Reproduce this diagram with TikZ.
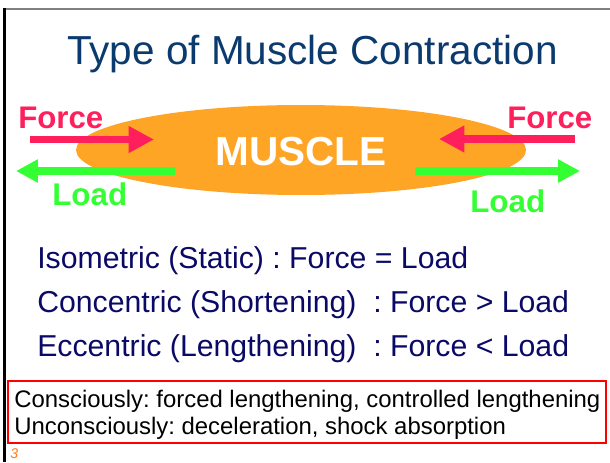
\documentclass[tikz,border=0pt]{standalone}
\usepackage{fontspec}
\setmainfont{Liberation Sans}
\usepackage{tikz}
\usetikzlibrary{arrows.meta}
\definecolor{titleblue}{HTML}{0B3A6E}
\definecolor{navy}{HTML}{0A0A66}
\definecolor{forcered}{HTML}{FF1F5C}
\definecolor{loadgreen}{HTML}{33FF33}
\definecolor{muscleorange}{HTML}{FFA526}
\definecolor{pageorange}{HTML}{FF7A1A}
\frenchspacing

\begin{document}
\begin{tikzpicture}[x=0.025cm,y=0.025cm,
    force/.style={forcered,line width=5.4pt,-{Triangle[length=18pt,width=18pt]}},
    load/.style={loadgreen,line width=5pt,-{Triangle[length=15.5pt,width=15.5pt]}},
    forcelbl/.style={anchor=base west,inner sep=0pt,text=forcered,font=\fontsize{22.2}{26}\selectfont\bfseries},
    loadlbl/.style={anchor=base west,inner sep=0pt,text=loadgreen,font=\fontsize{22.3}{26}\selectfont\bfseries},
    kind/.style={anchor=base west,inner sep=0pt,text=navy,font=\fontsize{21.5}{26}\selectfont},
    note/.style={anchor=base west,inner sep=0pt,font=\fontsize{17}{20}\selectfont}]
    \useasboundingbox (0,0) rectangle (610,462);
    \draw[gray,line width=2pt] (3,453) -- (610,453);
    \draw[line width=2pt] (4.5,454) -- (4.5,0);
    \node[anchor=base,inner sep=0pt,text=titleblue,font=\fontsize{28.8}{34}\selectfont] (title) at (312.5,397) {Type of Muscle Contraction};
    % muscle body
    \fill[muscleorange] (301,312) ellipse (225 and 45);
    \node[anchor=base,inner sep=0pt,text=white,font=\fontsize{28.8}{34}\selectfont\bfseries] (muscle) at (301,297) {MUSCLE};
    % force and load arrows
    \coordinate (forceL0) at (30,322.5);  \coordinate (forceL1) at (154,322.5);
    \coordinate (forceR0) at (575,323);   \coordinate (forceR1) at (439,323);
    \coordinate (loadL0) at (175,291);    \coordinate (loadL1) at (16,291);
    \coordinate (loadR0) at (415,291);    \coordinate (loadR1) at (580,291);
    \draw[force] (forceL0) -- (forceL1);
    \draw[force] (forceR0) -- (forceR1);
    \draw[load] (loadL0) -- (loadL1);
    \draw[load] (loadR0) -- (loadR1);
    \node[forcelbl] (forceLlbl) at (18,334) {Force};
    \node[forcelbl] (forceRlbl) at (507,334) {Force};
    \node[loadlbl] (loadLlbl) at (52,257) {Load};
    \node[loadlbl] (loadRlbl) at (470,250) {Load};
    % types
    \node[kind] (isometric) at (37,194) {Isometric (Static) : Force = Load};
    \node[kind] (concentric) at (37,150) {Concentric (Shortening) \ : Force > Load};
    \node[kind] (eccentric) at (37,106) {Eccentric (Lengthening) \ : Force < Load};
    % note box
    \draw[red,line width=1pt] (8,19) rectangle (606,81);
    \node[note] (conscious) at (14,55) {Consciously: forced lengthening, controlled lengthening};
    \node[note] (unconscious) at (14,28) {Unconsciously: deceleration, shock absorption};
    \node[anchor=base west,inner sep=0pt,text=pageorange,font=\fontsize{10}{12}\selectfont\itshape] (pagenum) at (10,4) {3};
\end{tikzpicture}
\end{document}
